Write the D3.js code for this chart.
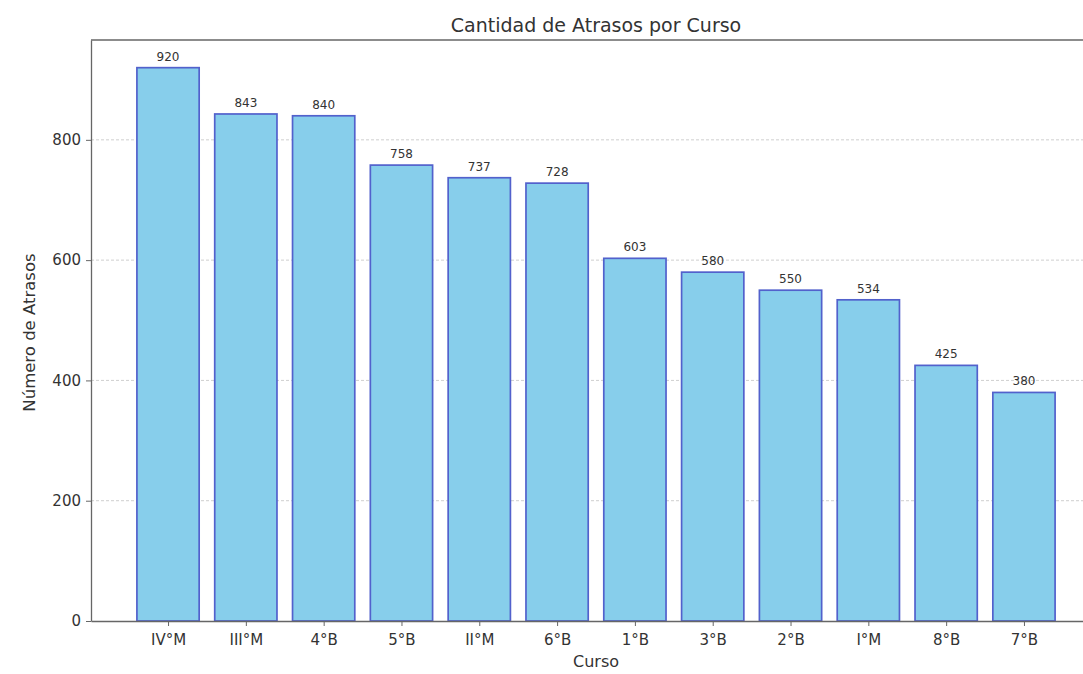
<!DOCTYPE html>
<html>
<head>
<meta charset="utf-8">
<script src="https://cdn.jsdelivr.net/npm/d3@7"></script>
<style>
  html, body { margin: 0; padding: 0; background: #fff; }
  svg { display: block; font-family: "DejaVu Sans", sans-serif; }
</style>
</head>
<body>
<svg id="chart" width="1083" height="674"></svg>
<script>
// Tardiness counts per course
const cursos = ["IV°M", "III°M", "4°B", "5°B", "II°M", "6°B", "1°B", "3°B", "2°B", "I°M", "8°B", "7°B"];
const atrasos = [920, 843, 840, 758, 737, 728, 603, 580, 550, 534, 425, 380];
const yTicks = [0, 200, 400, 600, 800];

const svg = d3.select("#chart");
const margin = { left: 91, top: 40, bottom: 621 };
const plotRight = 1101; // plot area runs past the page edge

// Index-based x scale with a small margin on each side, like a classic bar plot
const n = cursos.length;
const barW = 0.8;
const pad = (n - 1 + barW) * 0.05;
const x = d3.scaleLinear()
  .domain([-barW / 2 - pad, n - 1 + barW / 2 + pad])
  .range([margin.left, plotRight]);

const y = d3.scaleLinear()
  .domain([0, d3.max(atrasos) * 1.05])
  .range([margin.bottom, margin.top]);

const textColor = "#333";
const axisColor = "#666";
const fontFamily = "'DejaVu Sans', sans-serif";

// Horizontal dashed grid
svg.append("g")
  .selectAll("line")
  .data(yTicks.filter(d => d > 0))
  .join("line")
  .attr("x1", margin.left).attr("x2", plotRight)
  .attr("y1", d => y(d)).attr("y2", d => y(d))
  .attr("stroke", "#cfcfcf")
  .attr("stroke-width", 1)
  .attr("stroke-dasharray", "3,2");

// Bars
svg.append("g")
  .selectAll("rect")
  .data(atrasos)
  .join("rect")
  .attr("x", (d, i) => x(i - barW / 2))
  .attr("width", (d, i) => x(i + barW / 2) - x(i - barW / 2))
  .attr("y", d => y(d))
  .attr("height", d => y(0) - y(d))
  .attr("fill", "#87CEEB")
  .attr("stroke", "#5261cc")
  .attr("stroke-width", 1.7);

// Value labels
svg.append("g")
  .selectAll("text")
  .data(atrasos)
  .join("text")
  .attr("x", (d, i) => x(i))
  .attr("y", d => y(d) - 7)
  .attr("text-anchor", "middle")
  .attr("font-size", 12)
  .attr("fill", textColor)
  .text(d => d);

// Y axis
const yAxis = d3.axisLeft(y).tickValues(yTicks).tickSize(5).tickSizeOuter(0).tickPadding(5);
const gy = svg.append("g")
  .attr("transform", `translate(${margin.left},0)`)
  .call(yAxis);
gy.select(".domain").attr("stroke", axisColor).attr("stroke-width", 1.3);
gy.selectAll(".tick line").attr("stroke", axisColor);
gy.selectAll(".tick text").attr("font-size", 15).attr("fill", textColor)
  .attr("font-family", fontFamily);

// X axis
const xAxis = d3.axisBottom(x)
  .tickValues(d3.range(n))
  .tickFormat(i => cursos[i])
  .tickSize(5).tickSizeOuter(0).tickPadding(8);
const gx = svg.append("g")
  .attr("transform", `translate(0,${margin.bottom})`)
  .call(xAxis);
gx.select(".domain").attr("stroke", axisColor).attr("stroke-width", 1.3);
gx.selectAll(".tick line").attr("stroke", axisColor);
gx.selectAll(".tick text").attr("font-size", 15).attr("fill", textColor)
  .attr("font-family", fontFamily);

// Top spine
svg.append("line")
  .attr("x1", margin.left).attr("x2", plotRight)
  .attr("y1", margin.top).attr("y2", margin.top)
  .attr("stroke", axisColor).attr("stroke-width", 1.3);

// Title and axis titles
const cx = (margin.left + plotRight) / 2;
svg.append("text")
  .attr("x", cx).attr("y", 32)
  .attr("text-anchor", "middle")
  .attr("font-size", 19)
  .attr("fill", textColor)
  .text("Cantidad de Atrasos por Curso");

svg.append("text")
  .attr("x", cx).attr("y", 667)
  .attr("text-anchor", "middle")
  .attr("font-size", 16)
  .attr("fill", textColor)
  .text("Curso");

svg.append("text")
  .attr("transform", `translate(35,${(margin.top + margin.bottom) / 2 + 2}) rotate(-90)`)
  .attr("text-anchor", "middle")
  .attr("font-size", 16.5)
  .attr("fill", textColor)
  .text("Número de Atrasos");
</script>
</body>
</html>
